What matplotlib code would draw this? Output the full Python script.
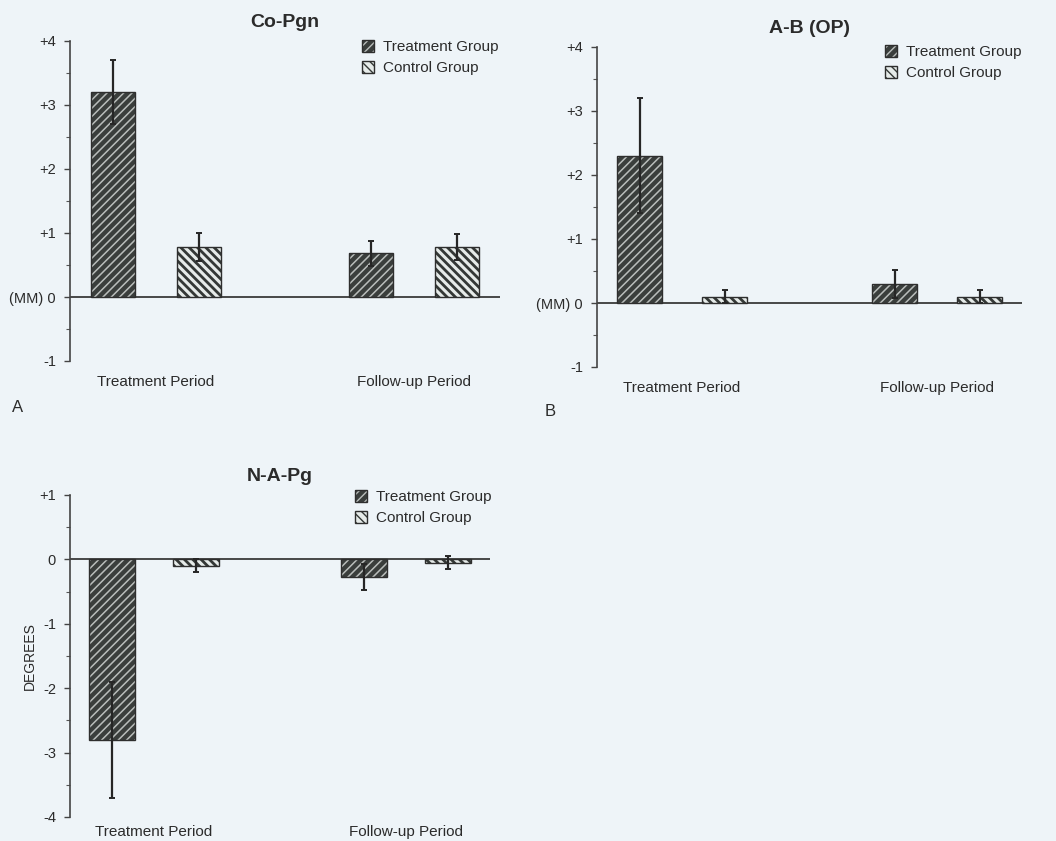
import numpy as np
import matplotlib.pyplot as plt
from matplotlib.patches import Patch

W, H = 1056, 841

plt.rcParams['font.family'] = ['Liberation Sans', 'DejaVu Sans']

groups = ['Treatment Group', 'Control Group']
periods = ['Treatment Period', 'Follow-up Period']

# A: Co-Pgn (mm), one value per period
copgn_treat = [3.2, 0.68]
copgn_treat_err = [0.5, 0.2]
copgn_ctrl = [0.78, 0.78]
copgn_ctrl_err = [0.22, 0.2]

# B: A-B (OP) (mm)
abop_treat = [2.3, 0.3]
abop_treat_err = [0.9, 0.22]
abop_ctrl = [0.1, 0.1]
abop_ctrl_err = [0.1, 0.1]

# C: N-A-Pg (degrees)
napg_treat = [-2.8, -0.27]
napg_treat_err = [0.9, 0.2]
napg_ctrl = [-0.1, -0.05]
napg_ctrl_err = [0.1, 0.1]

mm_ticks = [4, 3, 2, 1, 0, -1]
mm_ticklabels = ['+4', '+3', '+2', '+1', '(MM) 0', '-1']
deg_ticks = [1, 0, -1, -2, -3, -4]
deg_ticklabels = ['+1', '0', '-1', '-2', '-3', '-4']

TEXT = '#2b2b2b'
EDGE = '#2e2e2e'
styles = {
   'treat': dict(face='#3a3e3c', hatchc='#b9bdbb', hatch='////', hlw=1.1),
   'ctrl': dict(face='#e6ebe9', hatchc='#343836', hatch='\\\\\\\\', hlw=2.0),
}


def px_rect(left, top, right, bottom):
   return [left / W, 1 - bottom / H, (right - left) / W, (bottom - top) / H]


def hatched_bar(ax, x, h, err, st, width):
   with plt.rc_context({'hatch.linewidth': st['hlw']}):
      ax.bar(x, h, width, color=st['face'], edgecolor=st['hatchc'], hatch=st['hatch'], linewidth=0, zorder=2)
   ax.bar(x, h, width, fill=False, edgecolor=EDGE, linewidth=1.0, zorder=3)
   ax.errorbar(x, h, yerr=err, fmt='none', ecolor='#262626', elinewidth=1.6, capsize=2, capthick=1.4, zorder=4)


def draw_panel(fig, rect, title, treat, treat_err, ctrl, ctrl_err, ylim, yticks, yticklabels,
               legend_px, width=0.52, ylabel=None, cat_pad=10):
   ax = fig.add_axes(px_rect(*rect))
   ax.patch.set_alpha(0)
   x_treat = np.array([0, 3])
   x_ctrl = x_treat + 1
   hatched_bar(ax, x_treat, treat, treat_err, styles['treat'], width)
   hatched_bar(ax, x_ctrl, ctrl, ctrl_err, styles['ctrl'], width)
   ax.axhline(0, color='#3a3a3a', linewidth=1.3, zorder=1)

   ax.set_xlim(-0.5, 4.5)
   ax.set_ylim(*ylim)
   for s in ['top', 'right', 'bottom']:
      ax.spines[s].set_visible(False)
   ax.spines['left'].set_color('#444444')
   ax.spines['left'].set_linewidth(1.2)

   ax.set_yticks(yticks)
   ax.set_yticklabels(yticklabels)
   ax.set_yticks(np.arange(ylim[0] + 0.5, ylim[1], 1.0), minor=True)
   ax.tick_params(axis='y', which='major', length=4, width=1, color='#444444', pad=6,
                  labelsize=10.5, labelcolor=TEXT)
   ax.tick_params(axis='y', which='minor', length=3, width=0.8, color='#555555')

   ax.set_xticks((x_treat + x_ctrl) / 2)
   ax.set_xticklabels(periods)
   ax.tick_params(axis='x', length=0, pad=cat_pad, labelsize=11, labelcolor=TEXT)

   ax.set_title(title, fontsize=14, fontweight='bold', color=TEXT, pad=10)

   handles = []
   for key in ['treat', 'ctrl']:
      st = styles[key]
      with plt.rc_context({'hatch.linewidth': st['hlw']}):
         fill = Patch(facecolor=st['face'], edgecolor=st['hatchc'], hatch=st['hatch'], linewidth=0)
      handles.append((fill, Patch(fill=False, edgecolor=EDGE, linewidth=1.0)))
   ax.legend(handles, groups, loc='upper left', bbox_to_anchor=(legend_px[0] / W, 1 - legend_px[1] / H),
             bbox_transform=fig.transFigure, frameon=False, fontsize=11, labelcolor=TEXT,
             handlelength=0.8, handleheight=0.8, handletextpad=0.6, labelspacing=0.45,
             borderpad=0, borderaxespad=0)

   if ylabel:
      ax.set_ylabel(ylabel, fontsize=10, color=TEXT)
      ax.yaxis.set_label_coords(-0.08, 0.5)
   return ax


fig = plt.figure(figsize=(W / 100, H / 100), dpi=100, facecolor='#eef4f8')

draw_panel(fig, (70, 41, 500, 361), 'Co-Pgn', copgn_treat, copgn_treat_err, copgn_ctrl, copgn_ctrl_err,
           (-1, 4), mm_ticks, mm_ticklabels, (362, 40))
draw_panel(fig, (597, 47, 1022, 367), 'A-B (OP)', abop_treat, abop_treat_err, abop_ctrl, abop_ctrl_err,
           (-1, 4), mm_ticks, mm_ticklabels, (885, 45))
draw_panel(fig, (70, 495, 490, 817), 'N-A-Pg', napg_treat, napg_treat_err, napg_ctrl, napg_ctrl_err,
           (-4, 1), deg_ticks, deg_ticklabels, (355, 490), width=0.55, ylabel='DEGREES', cat_pad=6)

fig.text(12 / W, 1 - 407 / H, 'A', fontsize=12, color=TEXT, ha='left', va='center')
fig.text(545 / W, 1 - 412 / H, 'B', fontsize=12, color=TEXT, ha='left', va='center')

fig.savefig('out.png', dpi=100, facecolor=fig.get_facecolor())
